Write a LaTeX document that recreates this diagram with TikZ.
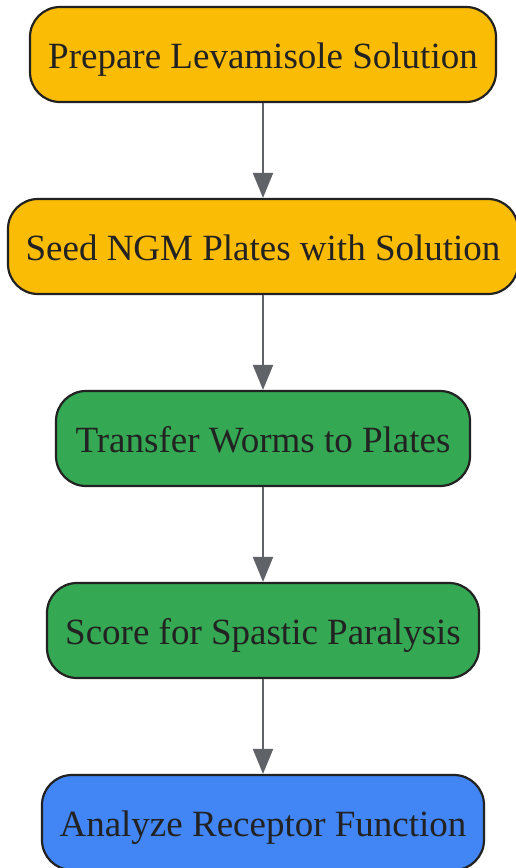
\documentclass[tikz,border=0pt]{standalone}
\usepackage{fontspec}
\setmainfont{Liberation Serif}
\usetikzlibrary{arrows.meta}
\definecolor{yel}{HTML}{FBBC05}
\definecolor{grn}{HTML}{34A853}
\definecolor{blu}{HTML}{4285F4}
\definecolor{edge}{HTML}{5F6368}
\definecolor{ink}{HTML}{222222}
\tikzset{
  stepbox/.style={draw=ink, line width=2.2pt, rounded corners=30pt, minimum height=95pt, inner sep=0pt, text height=28pt, text depth=0pt, text=ink, font=\fontsize{37}{44}\selectfont},
  flow/.style={draw=edge, line width=2.2pt, -{Triangle[length=25pt,width=20pt]}}
}
\begin{document}
\begin{tikzpicture}[x=1pt,y=-1pt]
\useasboundingbox (0,0) rectangle (515,868);
\node[stepbox, fill=yel, minimum width=466pt] (n1) at (263,54.5) {Prepare Levamisole Solution};
\node[stepbox, fill=yel, minimum width=510pt] (n2) at (263,246.5) {Seed NGM Plates with Solution};
\node[stepbox, fill=grn, minimum width=414pt] (n3) at (263,438.5) {Transfer Worms to Plates};
\node[stepbox, fill=grn, minimum width=432pt] (n4) at (263,630.5) {Score for Spastic Paralysis};
\node[stepbox, fill=blu, minimum width=442pt] (n5) at (263,822.5) {Analyze Receptor Function};
\draw[flow] (n1.south) -- (n2.north);
\draw[flow] (n2.south) -- (n3.north);
\draw[flow] (n3.south) -- (n4.north);
\draw[flow] (n4.south) -- (n5.north);
\end{tikzpicture}
\end{document}
